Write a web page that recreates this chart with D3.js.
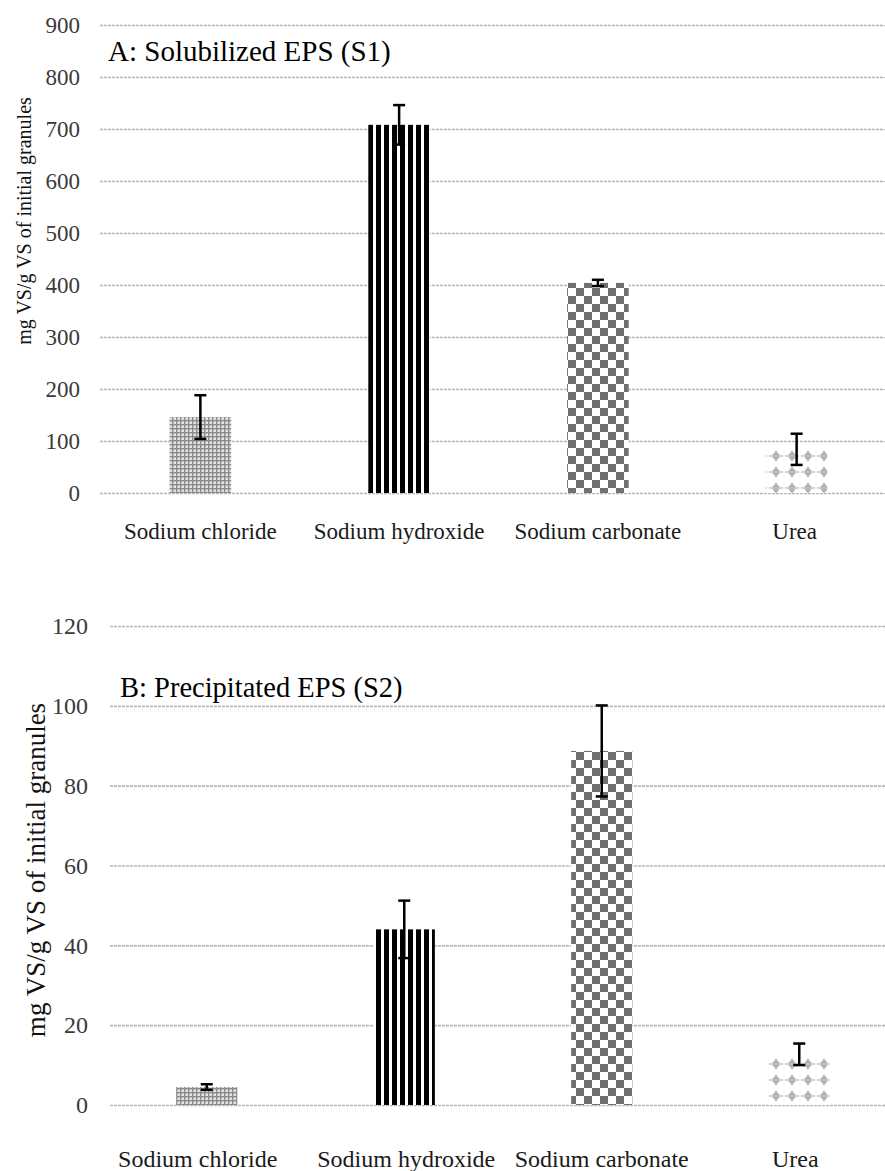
<!DOCTYPE html>
<html>
<head>
<meta charset="utf-8">
<script src="https://cdn.jsdelivr.net/npm/d3@7"></script>
<style>
  html, body { margin: 0; padding: 0; background: #fff; }
  svg { display: block; }
  svg text { font-family: "Liberation Serif", "Times New Roman", Times, "DejaVu Serif", serif !important; }
</style>
</head>
<body>
<svg id="chart" width="885" height="1171"></svg>
<script>
const categories = ["Sodium chloride", "Sodium hydroxide", "Sodium carbonate", "Urea"];
const patternIds = ["pDots", "pStripes", "pChecker", "pFlower"];

// Panel A: Solubilized EPS (S1)
const s1Values = [146, 708, 404, 84];
const s1Errors = [42, 38, 6, 30];
const s1Ticks = [0, 100, 200, 300, 400, 500, 600, 700, 800, 900];

// Panel B: Precipitated EPS (S2)
const s2Values = [4.5, 44, 88.7, 12.7];
const s2Errors = [0.7, 7.2, 11.4, 2.7];
const s2Ticks = [0, 20, 40, 60, 80, 100, 120];

const yLabel = "mg VS/g VS of initial granules";
const FONT = "Liberation Serif, Times New Roman, serif";

const svg = d3.select("#chart");
const defs = svg.append("defs");

// Pattern: fine gray dotted grid (sodium chloride)
{
  const p = defs.append("pattern").attr("id", "pDots").attr("patternUnits", "userSpaceOnUse")
    .attr("width", 4).attr("height", 4);
  p.append("rect").attr("width", 4).attr("height", 4).attr("fill", "#e4e4e4");
  p.append("rect").attr("x", 0).attr("y", 0).attr("width", 4).attr("height", 1.4).attr("fill", "#8a8a8a");
  p.append("rect").attr("x", 0).attr("y", 0).attr("width", 1.4).attr("height", 4).attr("fill", "#8a8a8a");
}
// Pattern: vertical black stripes (sodium hydroxide)
{
  const p = defs.append("pattern").attr("id", "pStripes").attr("patternUnits", "userSpaceOnUse")
    .attr("width", 8).attr("height", 8);
  p.append("rect").attr("width", 8).attr("height", 8).attr("fill", "#fff");
  p.append("rect").attr("x", 0).attr("width", 5).attr("height", 8).attr("fill", "#000");
}
// Pattern: checkerboard (sodium carbonate)
{
  const p = defs.append("pattern").attr("id", "pChecker").attr("patternUnits", "userSpaceOnUse")
    .attr("width", 16).attr("height", 16);
  p.append("rect").attr("width", 16).attr("height", 16).attr("fill", "#fff");
  p.append("rect").attr("x", 0).attr("y", 0).attr("width", 8).attr("height", 8).attr("fill", "#707070");
  p.append("rect").attr("x", 8).attr("y", 8).attr("width", 8).attr("height", 8).attr("fill", "#707070");
}
// Pattern: light gray flower/diamond (urea)
{
  const p = defs.append("pattern").attr("id", "pFlower").attr("patternUnits", "userSpaceOnUse")
    .attr("width", 16).attr("height", 16);
  p.append("rect").attr("width", 16).attr("height", 16).attr("fill", "#fff");
  p.append("path").attr("d", "M8,2 L12,8 L8,14 L4,8 Z").attr("fill", "#bdbdbd");
  p.append("circle").attr("cx", 8).attr("cy", 8).attr("r", 3.2).attr("fill", "#b0b0b0");
  p.append("rect").attr("x", 1).attr("y", 7.3).attr("width", 14).attr("height", 1.4).attr("fill", "#c4c4c4");
}

function drawPanel(cfg) {
  const g = svg.append("g").attr("font-family", FONT);
  const x = d3.scaleBand().domain(categories).range([cfg.x0, cfg.x1]).padding(0);
  const y = d3.scaleLinear().domain([0, cfg.ticks[cfg.ticks.length - 1]]).range([cfg.y0, cfg.y1]);
  const barW = x.bandwidth() * cfg.barFrac;

  // gridlines
  const grid = d3.axisLeft(y).tickValues(cfg.ticks).tickSize(-(885 - cfg.gridX)).tickFormat("");
  const gg = g.append("g").attr("transform", `translate(${cfg.gridX},0)`).call(grid);
  gg.select(".domain").remove();
  gg.selectAll(".tick line").attr("stroke", "#b8b8b8").attr("stroke-width", 1.6).attr("stroke-dasharray", "3,1");

  // tick labels
  const ax = d3.axisLeft(y).tickValues(cfg.ticks).tickSize(0).tickPadding(0).tickFormat(d3.format("d"));
  const ag = g.append("g").attr("transform", `translate(${cfg.tickX},0)`).call(ax);
  ag.attr("font-family", FONT);
  ag.select(".domain").remove();
  ag.selectAll("text").attr("font-size", cfg.tickFont).attr("fill", "#3a3a3a");

  // bars
  g.selectAll(".bar").data(cfg.values).join("rect")
    .attr("x", (d, i) => x(categories[i]) + x.bandwidth() / 2 - barW / 2)
    .attr("y", d => y(d))
    .attr("width", barW)
    .attr("height", d => y(0) - y(d))
    .attr("fill", (d, i) => `url(#${patternIds[i]})`);

  // error bars
  const capW = 12;
  const eb = g.selectAll(".err").data(cfg.values).join("g");
  eb.append("line")
    .attr("x1", (d, i) => x(categories[i]) + x.bandwidth() / 2)
    .attr("x2", (d, i) => x(categories[i]) + x.bandwidth() / 2)
    .attr("y1", (d, i) => y(d + cfg.errors[i]))
    .attr("y2", (d, i) => y(d - cfg.errors[i]))
    .attr("stroke", "#000").attr("stroke-width", 2.5);
  [1, -1].forEach(s => {
    eb.append("line")
      .attr("x1", (d, i) => x(categories[i]) + x.bandwidth() / 2 - capW / 2)
      .attr("x2", (d, i) => x(categories[i]) + x.bandwidth() / 2 + capW / 2)
      .attr("y1", (d, i) => y(d + s * cfg.errors[i]))
      .attr("y2", (d, i) => y(d + s * cfg.errors[i]))
      .attr("stroke", "#000").attr("stroke-width", 2.5);
  });

  // category labels
  g.selectAll(".cat").data(categories).join("text")
    .attr("x", (d, i) => x(d) + x.bandwidth() / 2 + cfg.catOffsets[i])
    .attr("y", cfg.catY)
    .attr("text-anchor", "middle")
    .attr("font-size", cfg.catFont)
    .attr("fill", "#1a1a1a")
    .text(d => d);

  // y label
  g.append("text")
    .attr("transform", `translate(${cfg.yLabX},${cfg.yLabY}) rotate(-90)`)
    .attr("text-anchor", "middle")
    .attr("font-size", cfg.yLabFont)
    .attr("fill", "#111")
    .text(yLabel);

  // title
  g.append("text")
    .attr("x", cfg.titleX).attr("y", cfg.titleY)
    .attr("font-size", cfg.titleFont)
    .attr("fill", "#000")
    .text(cfg.title);
}

drawPanel({
  values: s1Values, errors: s1Errors, ticks: s1Ticks,
  x0: 101, x1: 896, y0: 493, y1: 25, gridX: 100, tickX: 80, barFrac: 0.31,
  catY: 539, catOffsets: [0, 0, 0, -2], catFont: 23, tickFont: 23,
  yLabX: 31, yLabY: 221, yLabFont: 20,
  titleX: 108, titleY: 61, titleFont: 29, title: "A: Solubilized EPS (S1)"
});

drawPanel({
  values: s2Values, errors: s2Errors, ticks: s2Ticks,
  x0: 108, x1: 898, y0: 1105, y1: 626, gridX: 110, tickX: 88, barFrac: 0.31,
  catY: 1167, catOffsets: [-9, 2, 0, -4], catFont: 24, tickFont: 24,
  yLabX: 45, yLabY: 870, yLabFont: 27,
  titleX: 120, titleY: 697, titleFont: 28.5, title: "B: Precipitated EPS (S2)"
});
</script>
</body>
</html>
